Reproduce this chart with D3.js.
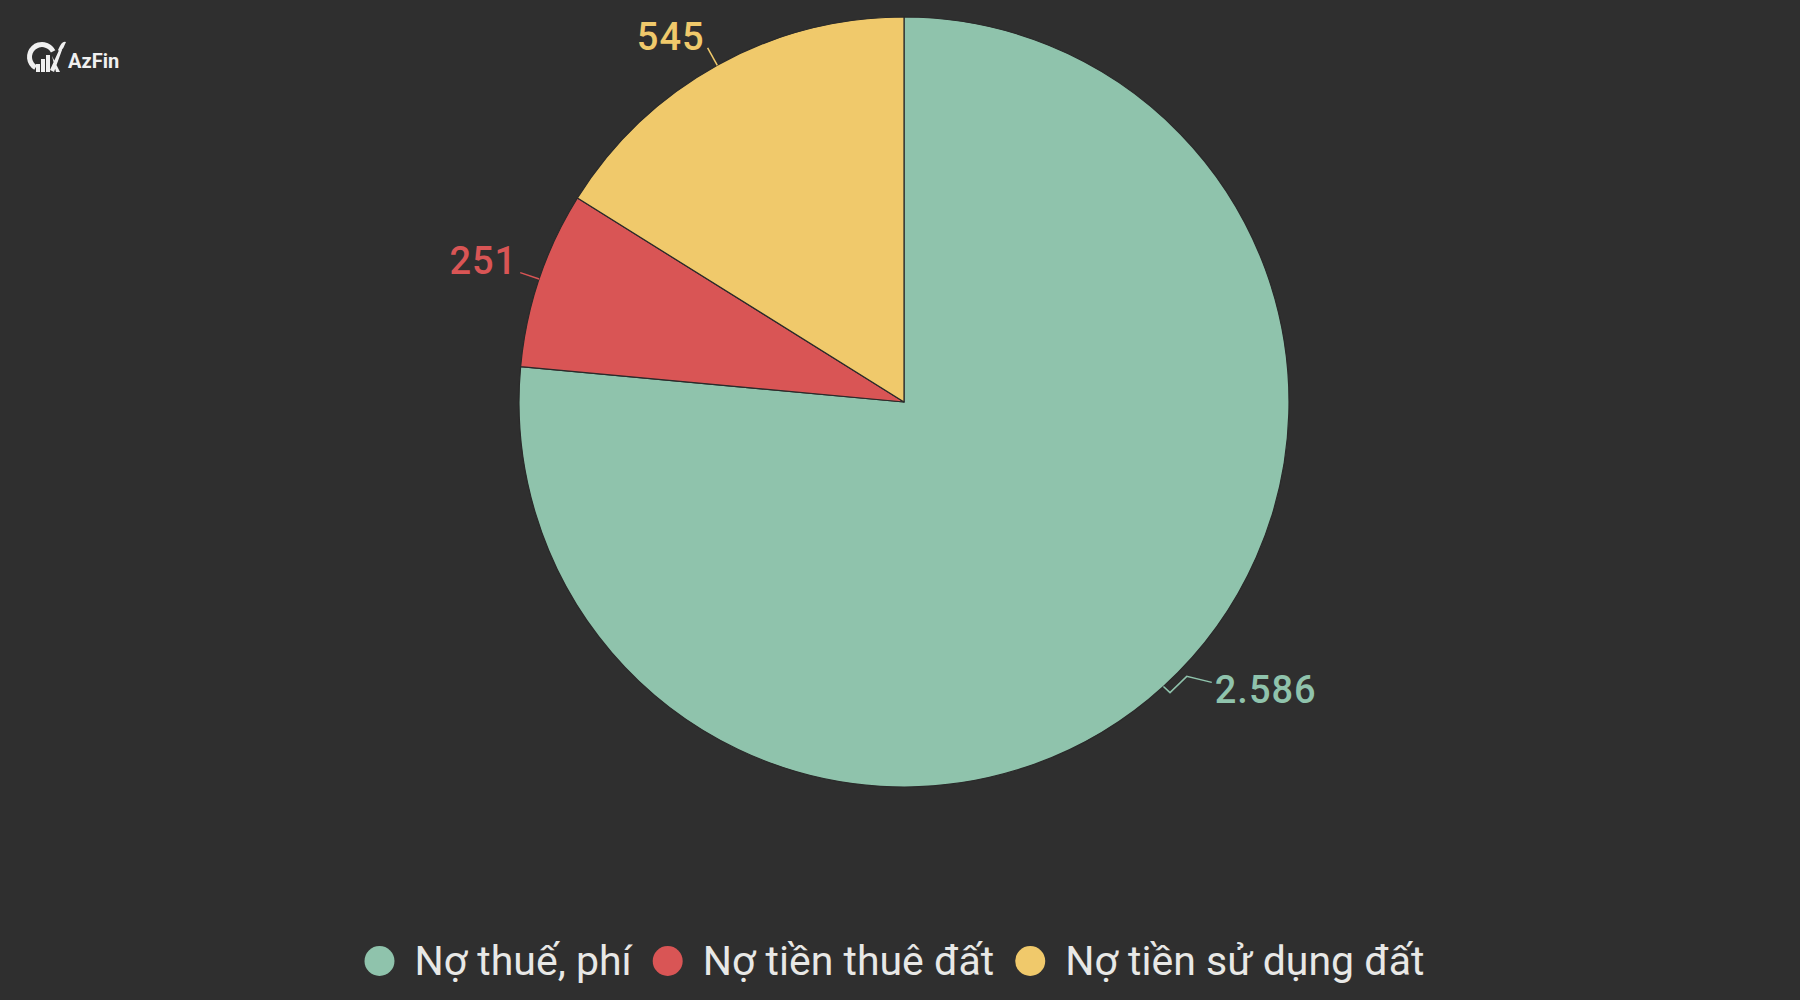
<!DOCTYPE html>
<html><head><meta charset="utf-8">
<script src="https://cdn.jsdelivr.net/npm/d3@7"></script>
<style>html,body{margin:0;padding:0;background:#2f2f2f;}svg{display:block;}</style>
</head><body>
<script>
const categories = ["Nợ thuế, phí", "Nợ tiền thuê đất", "Nợ tiền sử dụng đất"];
const values = [2586, 251, 545];
const valueLabels = ["2.586", "251", "545"];
const colors = ["#8fc3ac", "#d95555", "#f0c96b"];

const W = 1800, H = 1000;
const cx = 904, cy = 402, R = 385;
const svg = d3.select("body").append("svg").attr("width", W).attr("height", H);
svg.append("rect").attr("width", W).attr("height", H).attr("fill", "#2f2f2f");

const data = categories.map((c, i) => ({cat: c, value: values[i], label: valueLabels[i], color: colors[i]}));
const pie = d3.pie().sort(null).value(d => d.value);
const arcs = pie(data);
const arc = d3.arc().innerRadius(0).outerRadius(R);
const g = svg.append("g").attr("transform", `translate(${cx},${cy})`);
g.selectAll("path.slice").data(arcs).join("path")
  .attr("class", "slice").attr("d", arc).attr("fill", d => d.data.color)
  .attr("stroke", "#2a2a2a").attr("stroke-width", 1.2).attr("stroke-linejoin", "round");

const polar = (a, r) => [r * Math.sin(a), -r * Math.cos(a)];
const deg = Math.PI / 180;
arcs.forEach((d, i) => {
  const mid = (d.startAngle + d.endAngle) / 2;
  const p0 = polar(mid, R);
  let pts, tx, ty, anchor;
  if (Math.sin(mid) > 0) {
    const p1 = polar(mid - 0.1 * deg, R + 9);
    const p2 = polar(mid - 3.5 * deg, R + 9);
    const p3 = [p2[0] + 25, p2[1] + 6];
    pts = [p0, p1, p2, p3];
    tx = p3[0] + 3; ty = p3[1] + 21; anchor = "start";
  } else {
    const p1 = polar(mid, R + 20);
    pts = [p0, p1];
    tx = p1[0] - 3; ty = p1[1] + 1; anchor = "end";
    if (Math.cos(mid) > 0.5) { ty = p1[1] + 2; }
  }
  g.append("path").attr("d", d3.line()(pts)).attr("fill", "none")
    .attr("stroke", d.data.color).attr("stroke-width", 1.5);
  g.append("text").attr("x", tx).attr("y", ty).attr("text-anchor", anchor)
    .attr("fill", d.data.color).attr("font-family", "Roboto, sans-serif")
    .attr("font-size", 38).attr("font-weight", 500).attr("letter-spacing", 1).text(d.data.label);
});

// Legend
const leg = svg.append("g");
const items = leg.selectAll("g").data(data).join("g");
items.append("circle").attr("r", 15).attr("fill", d => d.color);
items.append("text").attr("x", 35).attr("y", 14).attr("fill", "#e8e8e6")
  .attr("font-family", "Roboto, sans-serif").attr("font-size", 41).text(d => d.cat);
let x = 0;
const xs = [];
items.each(function (d) {
  const w = d3.select(this).select("text").node().getComputedTextLength();
  xs.push(x);
  x += 35 + w + 36;
});
const total = x - 36;
const startX = (W - total) / 2 + 15 - 13;
items.attr("transform", (d, i) => `translate(${startX + xs[i]},961)`);

// Logo
const logo = svg.append("g").attr("transform", "translate(28,42)");
logo.append("path").attr("d", d3.arc().innerRadius(10).outerRadius(15).startAngle(-2.6).endAngle(1.1)())
  .attr("transform", "translate(14,15)").attr("fill", "#f0f0f0");
[[8, 22, 4, 8], [13, 17, 4, 13], [18, 13, 4, 17]].forEach(b =>
  logo.append("rect").attr("x", b[0]).attr("y", b[1]).attr("width", b[2]).attr("height", b[3]).attr("fill", "#f0f0f0"));
logo.append("path").attr("d", "M22,28 L32,6 L34,8 L26,30 Z M24,14 L32,30 L28,30 Z").attr("fill", "#f0f0f0");
logo.append("path").attr("d", "M30,8 Q34,-2 38,0 Q36,6 32,10 Z").attr("fill", "#f0f0f0");
logo.append("text").attr("x", 40).attr("y", 26).attr("fill", "#f0f0f0")
  .attr("font-family", "Roboto, sans-serif").attr("font-weight", "bold").attr("font-size", 20).text("AzFin");
</script>
</body></html>
